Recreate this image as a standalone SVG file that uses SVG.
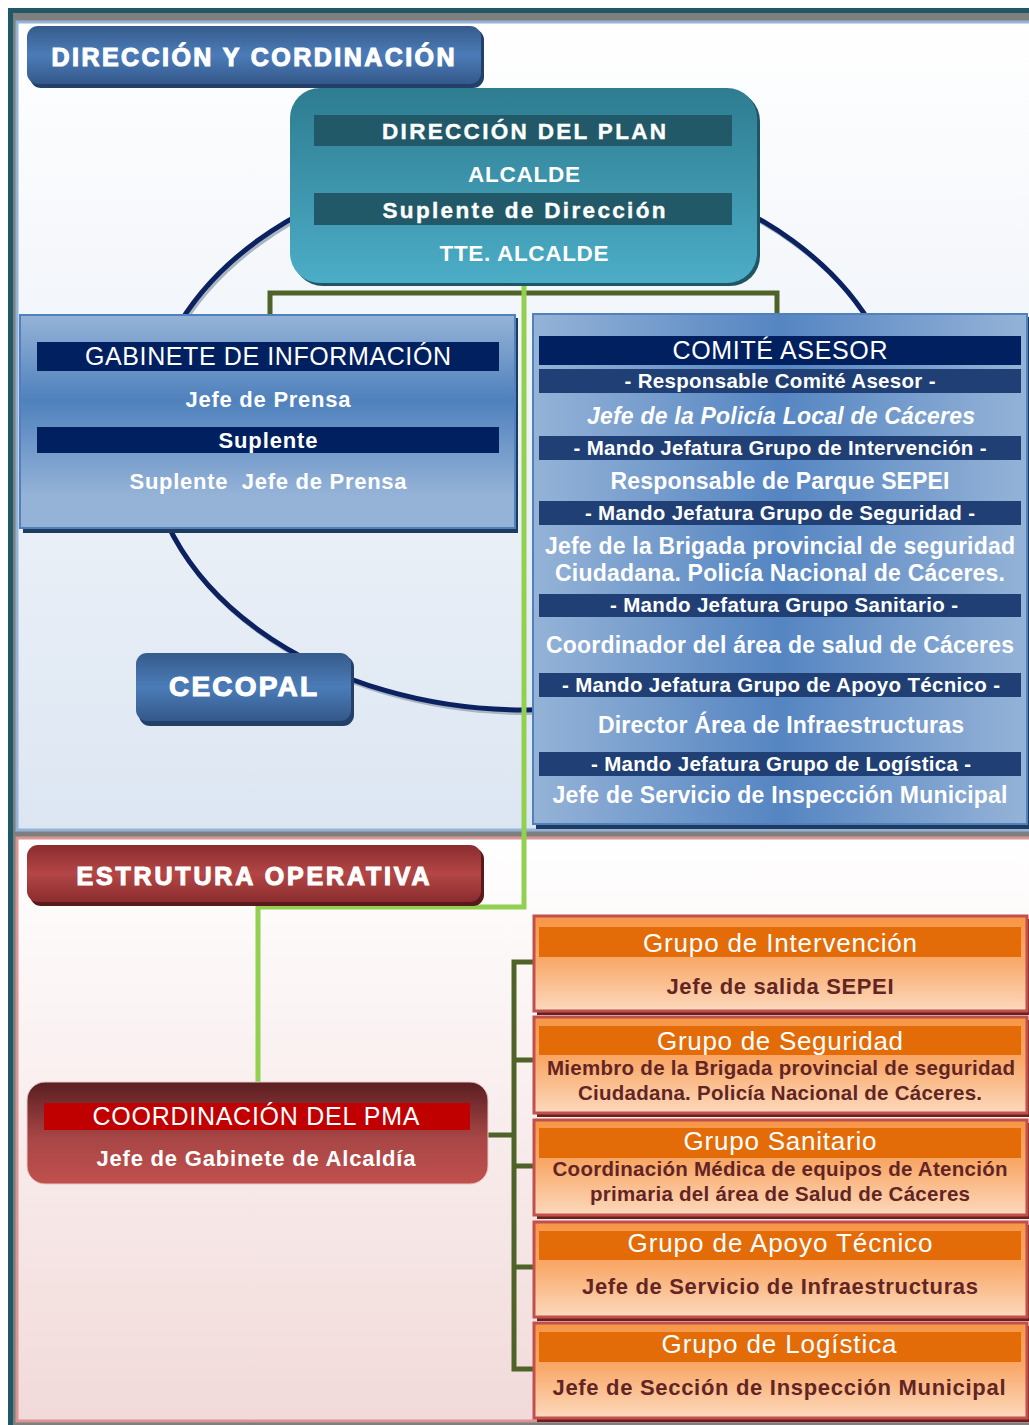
<svg xmlns="http://www.w3.org/2000/svg" width="1029" height="1425" viewBox="0 0 1029 1425">
<style>
text{font-family:"Liberation Sans",Arial,sans-serif;text-anchor:middle}
.w{fill:#fff}
.b{font-weight:bold}
.hv{font-weight:bold;stroke:#fff;stroke-width:1.1;paint-order:stroke}
.hvb{font-weight:bold;stroke:#fff;stroke-width:0.4}
.bar1{fill:#002060}
.bar2{fill:#1f3f75}
.tbar{fill:#215968}
.obar{fill:#e36c09}
.obox{fill:url(#gOr);stroke:#c0504d;stroke-width:3}
.oshadow{fill:#6b1f1f}
.ot{fill:#fff;font-size:26px}
.os{fill:#632523;font-weight:bold;font-size:22px}
.os2{fill:#632523;font-weight:bold;font-size:20.5px}
.ct{fill:#fff;font-weight:bold;font-size:23px}
.cb{fill:#fff;font-weight:bold;font-size:20.5px}
.olive{fill:none;stroke:#4f6228;stroke-width:5}
.green{fill:none;stroke:#92d050;stroke-width:5}
</style>
<defs>
<linearGradient id="gUp" x1="0" y1="0" x2="0" y2="1"><stop offset="0" stop-color="#ffffff"/><stop offset="0.35" stop-color="#f3f6fa"/><stop offset="1" stop-color="#dce6f2"/></linearGradient>
<linearGradient id="gLow" x1="0" y1="0" x2="0" y2="1"><stop offset="0" stop-color="#ffffff"/><stop offset="1" stop-color="#f1dad9"/></linearGradient>
<linearGradient id="gBlueT" x1="0" y1="0" x2="0" y2="1"><stop offset="0" stop-color="#365b8b"/><stop offset="0.5" stop-color="#4b7cb8"/><stop offset="1" stop-color="#34588a"/></linearGradient>
<linearGradient id="gRedT" x1="0" y1="0" x2="0" y2="1"><stop offset="0" stop-color="#8a2c2e"/><stop offset="0.5" stop-color="#b44646"/><stop offset="1" stop-color="#8a2c2e"/></linearGradient>
<linearGradient id="gTeal" x1="0" y1="0" x2="0" y2="1"><stop offset="0" stop-color="#2e7c90"/><stop offset="1" stop-color="#4cadc7"/></linearGradient>
<linearGradient id="gGab" x1="0" y1="0" x2="0" y2="1"><stop offset="0" stop-color="#95b3d7"/><stop offset="0.4" stop-color="#4f81bd"/><stop offset="0.85" stop-color="#95b3d7"/><stop offset="1" stop-color="#95b3d7"/></linearGradient>
<linearGradient id="gCom" x1="0" y1="0" x2="1" y2="0"><stop offset="0" stop-color="#95b3d7"/><stop offset="0.5" stop-color="#5585c2"/><stop offset="1" stop-color="#95b3d7"/></linearGradient>
<linearGradient id="gPma" x1="0" y1="0" x2="0" y2="1"><stop offset="0" stop-color="#5a1e21"/><stop offset="0.55" stop-color="#a84646"/><stop offset="1" stop-color="#c0504d"/></linearGradient>
<linearGradient id="gOr" x1="0" y1="0" x2="0" y2="1"><stop offset="0" stop-color="#f79646"/><stop offset="0.45" stop-color="#f9a868"/><stop offset="1" stop-color="#fcd9bd"/></linearGradient>
</defs>

<!-- frame -->
<rect x="8" y="8" width="1030" height="1420" fill="#215868"/>
<rect x="13" y="13" width="1025" height="1415" fill="#7f7f7f"/>
<rect x="17" y="22" width="1020" height="808" fill="url(#gUp)" stroke="#95b3d7" stroke-width="3"/>
<rect x="17" y="838" width="1020" height="583" fill="url(#gLow)" stroke="#d99694" stroke-width="3"/>

<!-- ring -->
<ellipse cx="527" cy="438" rx="378" ry="275" fill="none" stroke="#a9b4c2" stroke-width="4"/>
<ellipse cx="525" cy="435" rx="378" ry="275" fill="none" stroke="#0b2160" stroke-width="5"/>

<g id="connectors">
<path class="olive" d="M270,316 V293 H777 V316"/>
<path class="green" d="M524,283 V907 H258 V1082"/>
<path class="olive" d="M488,1135 H514 M534,962 H514 V1369 H534 M514,1060 H534 M514,1166 H534 M514,1267 H534"/>
</g>

<g id="title-direccion">
<rect x="30" y="29" width="454" height="59" rx="11" fill="#23406a"/>
<rect x="27" y="26" width="454" height="58" rx="11" fill="url(#gBlueT)"/>
<text x="253" y="66" font-size="25" class="w hv" textLength="403">DIRECCIÓN Y CORDINACIÓN</text>
</g>

<g id="direccion-plan">
<rect x="293" y="91" width="467" height="195" rx="30" fill="#1f5666"/>
<rect x="290" y="88" width="467" height="195" rx="30" fill="url(#gTeal)"/>
<rect x="314" y="115" width="418" height="31" class="tbar"/>
<rect x="314" y="193" width="418" height="32" class="tbar"/>
<text x="524" y="139" font-size="22.5" class="w hvb" textLength="284">DIRECCIÓN DEL PLAN</text>
<text x="524" y="182" font-size="22.5" class="w b" textLength="112">ALCALDE</text>
<text x="524" y="218" font-size="22.5" class="w hvb" textLength="283">Suplente de Dirección</text>
<text x="524" y="261" font-size="22.5" class="w b" textLength="169">TTE. ALCALDE</text>
</g>

<g id="gabinete">
<rect x="23" y="318" width="495" height="215" fill="#1f3a5f"/>
<rect x="20" y="315" width="495" height="213" fill="url(#gGab)" stroke="#4f81bd" stroke-width="2"/>
<rect x="37" y="342" width="462" height="29" class="bar1"/>
<rect x="37" y="427" width="462" height="26" class="bar1"/>
<text x="268" y="365" font-size="25" class="w" textLength="366">GABINETE DE INFORMACIÓN</text>
<text x="268" y="407" font-size="22" class="w b" textLength="165">Jefe de Prensa</text>
<text x="268" y="448" font-size="22" class="w b" textLength="99">Suplente</text>
<text x="268" y="489" font-size="22" class="w b" textLength="277" style="white-space:pre">Suplente  Jefe de Prensa</text>
</g>

<g id="cecopal">
<rect x="139" y="656" width="215" height="70" rx="11" fill="#23406a"/>
<rect x="136" y="653" width="215" height="68" rx="11" fill="url(#gBlueT)"/>
<text x="243" y="696" font-size="28" class="w hv" textLength="148">CECOPAL</text>
</g>

<g id="comite">
<rect x="536" y="317" width="495" height="512" fill="#1f3a5f"/>
<rect x="533" y="314" width="494" height="510" fill="url(#gCom)" stroke="#4f81bd" stroke-width="2"/>
<rect x="539" y="336" width="482" height="29" class="bar1"/>
<rect x="539" y="369" width="482" height="24" class="bar2"/>
<rect x="539" y="436" width="482" height="24" class="bar2"/>
<rect x="539" y="501" width="482" height="24" class="bar2"/>
<rect x="539" y="594" width="482" height="23" class="bar2"/>
<rect x="539" y="673" width="482" height="24" class="bar2"/>
<rect x="539" y="752" width="482" height="24" class="bar2"/>
<text x="780" y="359" font-size="25" class="w" textLength="215">COMITÉ ASESOR</text>
<text x="780" y="388" class="cb" textLength="311">- Responsable Comité Asesor -</text>
<text x="781" y="424" class="ct" font-style="italic" textLength="388">Jefe de la Policía Local de Cáceres</text>
<text x="780" y="455" class="cb" textLength="413">- Mando Jefatura Grupo de Intervención -</text>
<text x="780" y="489" class="ct" textLength="339">Responsable de Parque SEPEI</text>
<text x="780" y="520" class="cb" textLength="390">- Mando Jefatura Grupo de Seguridad -</text>
<text x="780" y="554" class="ct" textLength="470">Jefe de la Brigada provincial de seguridad</text>
<text x="780" y="581" class="ct" textLength="450">Ciudadana. Policía Nacional de Cáceres.</text>
<text x="784" y="612" class="cb" textLength="348">- Mando Jefatura Grupo Sanitario -</text>
<text x="780" y="653" class="ct" textLength="468">Coordinador del área de salud de Cáceres</text>
<text x="781" y="692" class="cb" textLength="438">- Mando Jefatura Grupo de Apoyo Técnico -</text>
<text x="781" y="733" class="ct" textLength="366">Director Área de Infraestructuras</text>
<text x="781" y="771" class="cb" textLength="380">- Mando Jefatura Grupo de Logística -</text>
<text x="780" y="803" class="ct" textLength="455">Jefe de Servicio de Inspección Municipal</text>
</g>

<g id="title-estructura">
<rect x="30" y="848" width="454" height="58" rx="11" fill="#5a1a1c"/>
<rect x="27" y="845" width="454" height="57" rx="11" fill="url(#gRedT)"/>
<text x="253" y="885" font-size="25" class="w hv" textLength="353">ESTRUTURA OPERATIVA</text>
</g>

<g id="coordinacion-pma">
<rect x="27" y="1082" width="461" height="102" rx="18" fill="url(#gPma)" stroke="#e8c8c8" stroke-width="1"/>
<rect x="44" y="1103" width="426" height="27" fill="#c00000"/>
<text x="256" y="1125" font-size="25" class="w" textLength="327">COORDINACIÓN DEL PMA</text>
<text x="256" y="1166" font-size="22" class="w b" textLength="319">Jefe de Gabinete de Alcaldía</text>
</g>

<g id="grupo-intervencion">
<rect x="537" y="919" width="493" height="96" class="oshadow"/>
<rect x="534" y="916" width="493" height="95" class="obox"/>
<rect x="539" y="927" width="482" height="30" class="obar"/>
<text x="780" y="952" class="ot" textLength="274">Grupo de Intervención</text>
<text x="780" y="994" class="os" textLength="227">Jefe de salida SEPEI</text>
</g>

<g id="grupo-seguridad">
<rect x="537" y="1020" width="493" height="97" class="oshadow"/>
<rect x="534" y="1017" width="493" height="96" class="obox"/>
<rect x="539" y="1026" width="482" height="29" class="obar"/>
<text x="780" y="1050" class="ot" textLength="246">Grupo de Seguridad</text>
<text x="781" y="1075" class="os2" textLength="468">Miembro de la Brigada provincial de seguridad</text>
<text x="780" y="1100" class="os2" textLength="404">Ciudadana. Policía Nacional de Cáceres.</text>
</g>

<g id="grupo-sanitario">
<rect x="537" y="1123" width="493" height="96" class="oshadow"/>
<rect x="534" y="1120" width="493" height="95" class="obox"/>
<rect x="539" y="1128" width="482" height="30" class="obar"/>
<text x="780" y="1150" class="ot" textLength="193">Grupo Sanitario</text>
<text x="780" y="1176" class="os2" textLength="455">Coordinación Médica de equipos de Atención</text>
<text x="780" y="1201" class="os2" textLength="380">primaria del área de Salud de Cáceres</text>
</g>

<g id="grupo-apoyo">
<rect x="537" y="1225" width="493" height="96" class="oshadow"/>
<rect x="534" y="1222" width="493" height="95" class="obox"/>
<rect x="539" y="1231" width="482" height="29" class="obar"/>
<text x="780" y="1252" class="ot" textLength="305">Grupo de Apoyo Técnico</text>
<text x="780" y="1294" class="os" textLength="396">Jefe de Servicio de Infraestructuras</text>
</g>

<g id="grupo-logistica">
<rect x="537" y="1326" width="493" height="96" class="oshadow"/>
<rect x="534" y="1323" width="493" height="95" class="obox"/>
<rect x="539" y="1332" width="482" height="30" class="obar"/>
<text x="779" y="1353" class="ot" textLength="235">Grupo de Logística</text>
<text x="779" y="1395" class="os" textLength="453">Jefe de Sección de Inspección Municipal</text>
</g>
</svg>
